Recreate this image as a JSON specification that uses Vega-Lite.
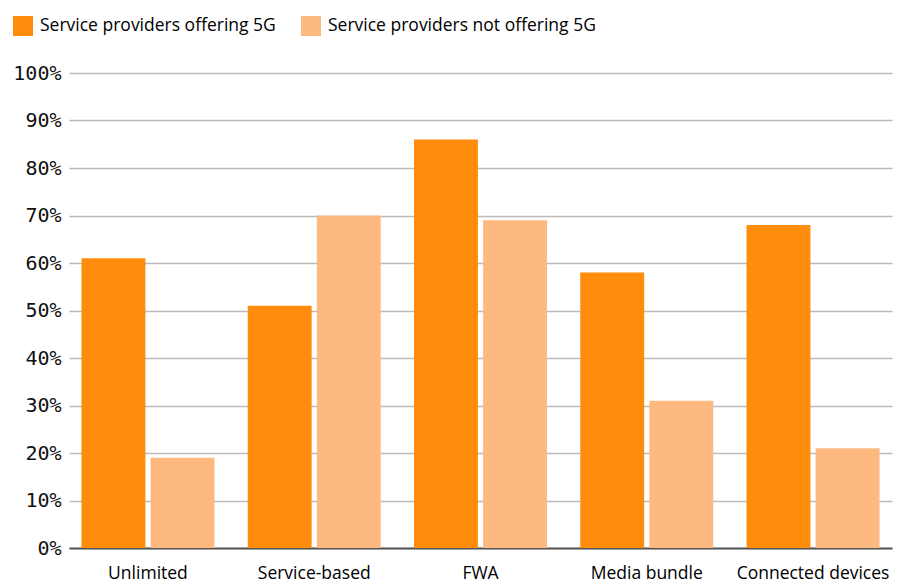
{
  "$schema": "https://vega.github.io/schema/vega-lite/v6.json",
  "width": 823,
  "height": 475,
  "autosize": {"type": "none"},
  "padding": {"left": 69, "top": 73, "right": 10, "bottom": 34},
  "background": "white",
  "data": {
    "values": [
      {"cat": "Unlimited", "series": "Service providers offering 5G", "v": 61},
      {"cat": "Unlimited", "series": "Service providers not offering 5G", "v": 19},
      {"cat": "Service-based", "series": "Service providers offering 5G", "v": 51},
      {"cat": "Service-based", "series": "Service providers not offering 5G", "v": 70},
      {"cat": "FWA", "series": "Service providers offering 5G", "v": 86},
      {"cat": "FWA", "series": "Service providers not offering 5G", "v": 69},
      {"cat": "Media bundle", "series": "Service providers offering 5G", "v": 58},
      {"cat": "Media bundle", "series": "Service providers not offering 5G", "v": 31},
      {"cat": "Connected devices", "series": "Service providers offering 5G", "v": 68},
      {"cat": "Connected devices", "series": "Service providers not offering 5G", "v": 21}
    ]
  },
  "config": {
    "view": {"stroke": null},
    "font": "Open Sans"
  },
  "mark": {"type": "bar"},
  "encoding": {
    "x": {
      "field": "cat", "type": "nominal", "sort": null, "title": null,
      "scale": {"paddingInner": 0.2, "paddingOuter": 0.075},
      "axis": {"labelAngle": 0, "ticks": false, "labelPadding": 16, "labelFontSize": 17.5, "labelColor": "#000", "labelFont": "Open Sans", "domainColor": "#555", "domainWidth": 2}
    },
    "xOffset": {
      "field": "series", "type": "nominal", "sort": ["Service providers offering 5G", "Service providers not offering 5G"],
      "scale": {"paddingInner": 0.075}
    },
    "y": {
      "field": "v", "type": "quantitative", "title": null,
      "scale": {"domain": [0, 100], "nice": false},
      "axis": {"values": [0,10,20,30,40,50,60,70,80,90,100], "labelExpr": "datum.value + '%'", "domain": false, "ticks": false, "labelPadding": 8, "labelFont": "DejaVu Sans Mono", "labelFontSize": 20, "labelColor": "#111", "gridColor": "#bbbbbb", "gridWidth": 1.5}
    },
    "color": {
      "field": "series", "type": "nominal", "sort": ["Service providers offering 5G", "Service providers not offering 5G"],
      "scale": {"range": ["#ff8c0a", "#fdb980"]},
      "legend": {"title": null, "orient": "none", "legendX": -56, "legendY": -57, "direction": "horizontal", "symbolType": "square", "symbolSize": 400, "symbolStrokeWidth": 0, "symbolOpacity": 1, "labelFontSize": 17.5, "labelFont": "Open Sans", "labelColor": "#000", "columnPadding": 25, "labelOffset": 7, "labelLimit": 400}
    }
  }
}
